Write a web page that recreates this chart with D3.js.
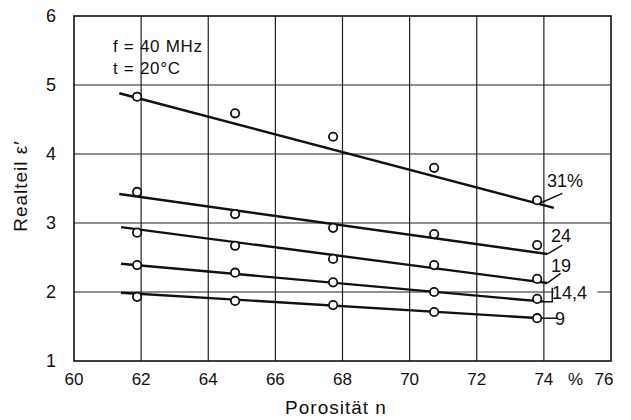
<!DOCTYPE html>
<html>
<head>
<meta charset="utf-8">
<script src="https://cdn.jsdelivr.net/npm/d3@7"></script>
<style>
  body { margin: 0; background: #fff; }
  svg { display: block; font-family: "Liberation Sans", Arial, sans-serif; }
</style>
</head>
<body>
<div id="chart"></div>
<script>
// porosity (x) where the measurements were taken
const porosity = [61.88, 64.8, 67.72, 70.73, 73.8];

// series: moisture content and measured eps'
const seriesNames = ["31%", "24", "19", "14,4", "9"];
const measured = [
  [4.83, 4.59, 4.25, 3.80, 3.33],
  [3.45, 3.13, 2.93, 2.84, 2.68],
  [2.86, 2.67, 2.48, 2.39, 2.19],
  [2.39, 2.28, 2.14, 2.00, 1.90],
  [1.93, 1.87, 1.81, 1.71, 1.62]
];
// fitted straight lines [x0, y0, x1, y1]
const fitLines = [
  [61.35, 4.88, 74.3, 3.22],
  [61.35, 3.42, 74.1, 2.55],
  [61.4, 2.94, 74.1, 2.13],
  [61.4, 2.41, 74.0, 1.86],
  [61.4, 1.99, 73.9, 1.62]
];
// label position (data units) and leader line
const labelPos = [
  [74.09, 3.52], [74.21, 2.72], [74.21, 2.29], [74.24, 1.9], [74.33, 1.52]
];
const leaders = [
  [[73.9, 3.29], [74.55, 3.43]],
  [[74.1, 2.55], [74.55, 2.68]],
  [[74.1, 2.13], [74.5, 2.27]],
  [[74.0, 1.86], [74.25, 1.86], [74.25, 2.06]],
  [[73.9, 1.62], [74.4, 1.62]]
];

const xTicks = [60, 62, 64, 66, 68, 70, 72, 74, 76];
const yTicks = [1, 2, 3, 4, 5, 6];

const width = 631, height = 420;
const x = d3.scaleLinear().domain([60, 76]).range([74, 611]);
const y = d3.scaleLinear().domain([1, 6]).range([361, 16]);

const svg = d3.select("#chart").append("svg")
  .attr("width", width)
  .attr("height", height);

// grid
svg.append("g")
  .selectAll("line")
  .data(xTicks.slice(1, -1))
  .join("line")
  .attr("x1", d => x(d)).attr("x2", d => x(d))
  .attr("y1", y(1)).attr("y2", y(6))
  .attr("stroke", "#222").attr("stroke-width", 1.2);

svg.append("g")
  .selectAll("line")
  .data(yTicks.slice(1, -1))
  .join("line")
  .attr("x1", x(60)).attr("x2", x(76))
  .attr("y1", d => y(d)).attr("y2", d => y(d))
  .attr("stroke", "#222").attr("stroke-width", 1.2);

// frame
svg.append("rect")
  .attr("x", x(60)).attr("y", y(6))
  .attr("width", x(76) - x(60)).attr("height", y(1) - y(6))
  .attr("fill", "none").attr("stroke", "#111").attr("stroke-width", 1.6);

// tick labels
svg.append("g")
  .attr("font-size", 17)
  .attr("text-anchor", "middle")
  .selectAll("text")
  .data(xTicks)
  .join("text")
  .attr("x", d => x(d) + (d === 76 ? -7 : 0))
  .attr("y", 385)
  .attr("fill", "#111")
  .text(d => d);

svg.append("text")
  .attr("x", x(75) - 2).attr("y", 385)
  .attr("font-size", 17).attr("text-anchor", "middle").attr("fill", "#111")
  .text("%");

svg.append("g")
  .attr("font-size", 18)
  .attr("text-anchor", "middle")
  .selectAll("text")
  .data(yTicks)
  .join("text")
  .attr("x", 51)
  .attr("y", d => y(d) + 6)
  .attr("fill", "#111")
  .text(d => d);

// axis titles
svg.append("text")
  .attr("x", 336).attr("y", 414)
  .attr("font-size", 19).attr("letter-spacing", 1)
  .attr("text-anchor", "middle").attr("fill", "#111")
  .text("Porosität n");

svg.append("text")
  .attr("transform", "translate(27,186) rotate(-90)")
  .attr("font-size", 19).attr("letter-spacing", 1)
  .attr("text-anchor", "middle").attr("fill", "#111")
  .text("Realteil ε′");

// conditions
svg.append("g")
  .attr("font-size", 17).attr("letter-spacing", 0.7).attr("fill", "#111")
  .selectAll("text")
  .data(["f = 40 MHz", "t = 20°C"])
  .join("text")
  .attr("x", 113)
  .attr("y", (d, i) => 52 + i * 22)
  .text(d => d);

// fitted lines
svg.append("g")
  .selectAll("line")
  .data(fitLines)
  .join("line")
  .attr("x1", d => x(d[0])).attr("y1", d => y(d[1]))
  .attr("x2", d => x(d[2])).attr("y2", d => y(d[3]))
  .attr("stroke", "#111").attr("stroke-width", 2.4);

// leaders
const leaderLine = d3.line().x(d => x(d[0])).y(d => y(d[1]));
svg.append("g")
  .selectAll("path")
  .data(leaders)
  .join("path")
  .attr("d", leaderLine)
  .attr("fill", "none")
  .attr("stroke", "#111").attr("stroke-width", 1.5);

// white patch behind "14,4" (grid line broken there)
svg.append("rect")
  .attr("x", x(74.3)).attr("y", y(2) - 4)
  .attr("width", x(75.6) - x(74.3)).attr("height", 8)
  .attr("fill", "#fff");

// series labels
svg.append("g")
  .attr("font-size", 18).attr("fill", "#111")
  .selectAll("text")
  .data(seriesNames)
  .join("text")
  .attr("x", (d, i) => x(labelPos[i][0]))
  .attr("y", (d, i) => y(labelPos[i][1]))
  .text(d => d);

// measured points
svg.append("g")
  .selectAll("g")
  .data(measured)
  .join("g")
  .selectAll("circle")
  .data(d => d.map((v, i) => [porosity[i], v]))
  .join("circle")
  .attr("cx", d => x(d[0]))
  .attr("cy", d => y(d[1]))
  .attr("r", 4.2)
  .attr("fill", "#fff")
  .attr("stroke", "#111")
  .attr("stroke-width", 1.8);
</script>
</body>
</html>
